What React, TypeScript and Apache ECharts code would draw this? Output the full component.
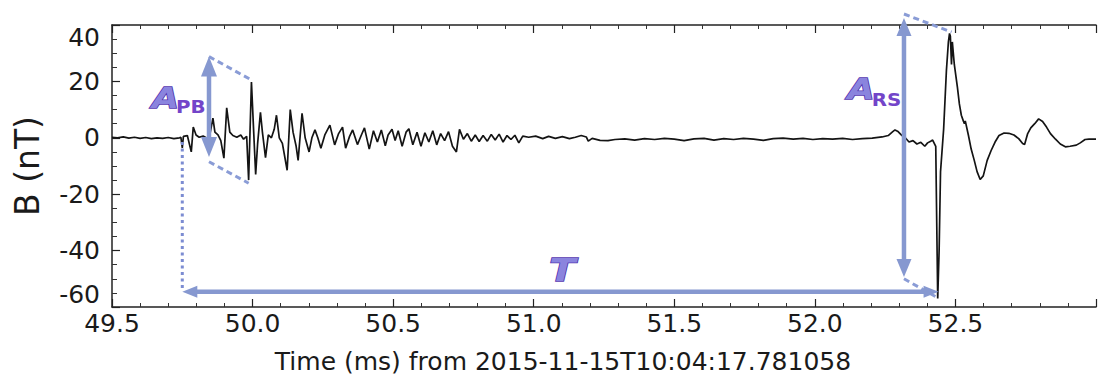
import React, { useEffect, useRef } from "react";
import * as echarts from "echarts";

// ---- data ----
const timeMs = [
  49.5, 49.52, 49.54, 49.56, 49.58, 49.6, 49.62, 49.64, 49.66, 49.68, 49.7, 49.72, 49.74,
  49.745, 49.75, 49.754, 49.768, 49.782, 49.789, 49.799, 49.81, 49.824, 49.835, 49.845,
  49.859, 49.866, 49.877, 49.887, 49.898, 49.908, 49.919, 49.93, 49.944, 49.958, 49.968,
  49.979, 49.986, 49.996, 50.004, 50.011, 50.018, 50.028, 50.035, 50.046, 50.056, 50.067,
  50.077, 50.085, 50.095, 50.106, 50.123, 50.134, 50.144, 50.155, 50.162, 50.176, 50.187,
  50.201, 50.211, 50.222, 50.232, 50.243, 50.257, 50.275, 50.292, 50.306, 50.32, 50.331,
  50.345, 50.356, 50.373, 50.387, 50.398, 50.415, 50.43, 50.444, 50.458, 50.472, 50.482,
  50.496, 50.507, 50.518, 50.532, 50.546, 50.556, 50.57, 50.585, 50.599, 50.613, 50.627,
  50.641, 50.655, 50.669, 50.683, 50.697, 50.711, 50.725, 50.736, 50.75, 50.764, 50.778,
  50.792, 50.806, 50.82, 50.835, 50.849, 50.863, 50.877, 50.891, 50.905, 50.919, 50.933,
  50.947, 50.961, 50.982, 51.007, 51.032, 51.053, 51.077, 51.102, 51.127, 51.148, 51.169,
  51.187, 51.194, 51.208, 51.236, 51.264, 51.289, 51.324, 51.359, 51.394, 51.43, 51.465,
  51.5, 51.535, 51.57, 51.606, 51.641, 51.676, 51.711, 51.746, 51.782, 51.817, 51.852,
  51.887, 51.923, 51.958, 51.993, 52.028, 52.063, 52.099, 52.134, 52.169, 52.204, 52.239,
  52.261, 52.275, 52.285, 52.296, 52.31, 52.32, 52.335, 52.349, 52.363, 52.377, 52.391,
  52.401, 52.412, 52.419, 52.43, 52.437, 52.442, 52.447, 52.458, 52.468, 52.475, 52.479,
  52.482, 52.486, 52.489, 52.496, 52.507, 52.514, 52.521, 52.528, 52.532, 52.535, 52.546,
  52.556, 52.567, 52.577, 52.588, 52.599, 52.613, 52.627, 52.641, 52.655, 52.673, 52.69,
  52.708, 52.725, 52.739, 52.746, 52.757, 52.768, 52.782, 52.796, 52.81, 52.824, 52.838,
  52.856, 52.873, 52.891, 52.908, 52.93, 52.944, 52.961, 52.975, 53.0,
];
const fieldNT = [
  0.2, 0.0, 0.3, -0.1, 0.2, -0.2, 0.1, -0.3, 0.0, -0.2, 0.1, -0.3, 0.0,
  0.2, -3.6, 0.5, 0.8, -5.0, 3.8, 1.0, 0.2, 0.6, 0.0, -0.5,
  7.0, 2.0, 1.0, -1.0, -7.2, 10.6, 2.0, 0.8, 0.2, 1.0, -0.5,
  0.5, -15.0, 19.8, 2.0, -13.0, -2.0, 9.0, 2.0, -7.0, 1.0, 0.0,
  3.0, 8.0, 0.0, -2.0, -11.5, 10.0, 2.0, -3.0, -8.0, 8.7, 0.0,
  -5.0, 0.0, 2.8, 0.0, -3.7, 1.0, 4.5, -2.5, 1.5, 3.8, -3.7,
  0.5, 2.8, -2.4, 1.0, 3.5, -4.0, 2.5, -1.5, 2.8, -2.8, 1.0,
  3.0, -1.0, 2.5, -3.0, 2.0, 3.2, -2.5, 2.0, -3.0, 1.8, -1.5,
  2.5, -2.5, 1.5, -1.0, 2.2, -3.0, -5.0, 3.0, -0.5, 1.5, -1.2,
  1.0, -1.3, 0.8, -1.2, 1.2, -0.8, 1.3, -1.5, 0.8, -0.6, 0.9,
  -1.8, 0.6, 0.2, 0.6, -0.3, 0.5, -0.2, 0.4, -0.3, 0.2, 0.8,
  0.3, -1.2, -0.2, -0.9, -1.0, -0.6, -0.4, -0.8, -0.3, -0.6, -0.2,
  -0.5, -1.0, -0.4, -0.2, -0.8, -0.3, -0.6, -0.2, -0.5, -0.9, -0.3,
  -0.1, -0.5, -0.2, -0.6, -0.3, -0.5, -0.2, -0.6, -0.3, -0.1, 0.3,
  0.8, 2.0, 2.8, 2.2, 0.8, 0.2, -1.5, -1.0, -2.2, -1.6, -3.0,
  -1.8, -1.2, -0.8, -3.0, -57.0, -40.0, -12.0, 3.0, 24.0, 34.0, 37.0,
  36.0, 26.0, 34.0, 26.0, 18.0, 12.0, 8.0, 6.0, 5.0, 6.0, 1.0,
  -4.0, -8.0, -12.0, -14.8, -13.5, -8.0, -4.5, -1.5, 0.8, 1.7, 1.6,
  1.0, -0.3, -2.0, -2.4, 1.5, 3.5, 5.0, 6.7, 5.8, 3.8, 1.5,
  -0.5, -2.2, -3.2, -3.0, -2.6, -1.8, -0.6, -0.5, -0.5,
];

const xRange = [49.5, 53.0];
const yRange = [-60, 40];
const xTitle = "Time (ms) from 2015-11-15T10:04:17.781058";
const yTitle = "B (nT)";

// annotation geometry in data units (ms, nT)
const apbArrow = { t: 49.845, top: 28.8, bottom: -6.8 };
const apbDashes = [
  [[49.845, 28.8], [49.996, 20.5]],
  [[49.845, -8.5], [49.986, -16.1]],
];
const onsetDotted = [[49.75, -1.5], [49.75, -54.5]];
const tArrow = { b: -54.6, start: 49.75, end: 52.44 };
const arsArrow = { t: 52.317, top: 42.5, bottom: -49.4 };
const arsDashes = [
  [[52.317, 43.9], [52.486, 37.5]],
  [[52.317, -50.0], [52.433, -56.5]],
];
const labelTexts = ["A", "PB", "A", "RS", "T"];
const labelKinds = ["big", "sub", "big", "sub", "big"];
const labelAt = [
  [49.69, 14.1],
  [49.78, 11.1],
  [52.164, 17.3],
  [52.255, 13.6],
  [51.102, -46.9],
];

const FONT = "DejaVu Sans";
const ARROW = "#8698d0";
const DASH = "#8a9cd6";

export default function App() {
  const ref = useRef<HTMLDivElement>(null);

  useEffect(() => {
    document.body.style.margin = "0";
    const el = ref.current!;
    const chart = echarts.init(el, undefined, { renderer: "svg" });

    const axisLine = { show: true, onZero: false, lineStyle: { color: "#222", width: 1.5 } };
    const axisTick = { show: true, inside: true, length: 8, lineStyle: { color: "#222", width: 1.2 } };

    chart.setOption({
      animation: false,
      backgroundColor: "#fff",
      grid: { left: 112, top: 25, width: 994, height: 282, containLabel: false },
      xAxis: [
        {
          type: "value",
          min: xRange[0],
          max: xRange[1],
          interval: 0.5,
          position: "bottom",
          axisLine,
          axisTick,
          minorTick: { show: true, splitNumber: 5, length: 4, lineStyle: { color: "#333", width: 1 } },
          splitLine: { show: false },
          axisLabel: {
            formatter: (v: number) => (v > 52.6 ? "" : v.toFixed(1)),
            fontSize: 25,
            fontFamily: FONT,
            color: "#1a1a1a",
            margin: 4,
          },
          name: xTitle,
          nameLocation: "middle",
          nameGap: 42,
          nameTextStyle: { fontSize: 25, fontFamily: FONT, color: "#1a1a1a", padding: [0, 82, 0, 0] },
        },
        {
          type: "value",
          min: xRange[0],
          max: xRange[1],
          interval: 0.5,
          position: "top",
          axisLine,
          axisTick,
          minorTick: { show: true, splitNumber: 5, length: 4, lineStyle: { color: "#333", width: 1 } },
          splitLine: { show: false },
          axisLabel: { show: false },
        },
      ],
      yAxis: [
        {
          type: "value",
          min: yRange[0],
          max: yRange[1],
          interval: 20,
          axisLine,
          axisTick,
          minorTick: { show: true, splitNumber: 4, length: 5, lineStyle: { color: "#333", width: 1 } },
          splitLine: { show: false },
          axisLabel: {
            fontSize: 25,
            fontFamily: FONT,
            color: "#1a1a1a",
            margin: 12,
            verticalAlignMinLabel: "bottom",
            verticalAlignMaxLabel: "top",
          },
          name: yTitle,
          nameLocation: "middle",
          nameGap: 68,
          nameTextStyle: { fontSize: 33, fontFamily: FONT, color: "#1a1a1a" },
        },
      ],
      series: [
        {
          type: "line",
          data: timeMs.map((t, i) => [t, fieldNT[i]]),
          showSymbol: false,
          symbol: "none",
          lineStyle: { color: "#141414", width: 1.7 },
          z: 2,
        },
      ],
    });

    const px = (p: number[]) => chart.convertToPixel({ xAxisIndex: 0, yAxisIndex: 0 }, p) as number[];

    const g: any[] = [];
    const vArrow = (t: number, top: number, bottom: number, headL: number, headW: number) => {
      const a = px([t, top]);
      const b = px([t, bottom]);
      const x = a[0];
      g.push({
        type: "line",
        z: 50,
        shape: { x1: x, y1: a[1] + headL - 1, x2: x, y2: b[1] - headL + 1 },
        style: { stroke: ARROW, lineWidth: 4.5 },
      });
      g.push({
        type: "polygon",
        z: 50,
        shape: { points: [[x, a[1]], [x - headW / 2, a[1] + headL], [x + headW / 2, a[1] + headL]] },
        style: { fill: ARROW },
      });
      g.push({
        type: "polygon",
        z: 50,
        shape: { points: [[x, b[1]], [x - headW / 2, b[1] - headL], [x + headW / 2, b[1] - headL]] },
        style: { fill: ARROW },
      });
    };
    const dashed = (seg: number[][], dash: number[], width: number, color: string) => {
      const a = px(seg[0]);
      const b = px(seg[1]);
      g.push({
        type: "line",
        z: 49,
        shape: { x1: a[0], y1: a[1], x2: b[0], y2: b[1] },
        style: { stroke: color, lineWidth: width, lineDash: dash },
      });
    };

    vArrow(apbArrow.t, apbArrow.top, apbArrow.bottom, 20, 16);
    apbDashes.forEach((s) => dashed(s, [6, 4], 3, DASH));
    dashed(onsetDotted, [3, 3.5], 3, "#7c8cd2");
    vArrow(arsArrow.t, arsArrow.top, arsArrow.bottom, 18, 15);
    arsDashes.forEach((s) => dashed(s, [6, 4], 3, DASH));

    // horizontal T arrow
    {
      const a = px([tArrow.start, tArrow.b]);
      const b = px([tArrow.end, tArrow.b]);
      const y = a[1];
      const L = 15;
      const W = 12;
      g.push({
        type: "line",
        z: 50,
        shape: { x1: a[0] + L - 1, y1: y, x2: b[0] - L + 1, y2: y },
        style: { stroke: ARROW, lineWidth: 4.5 },
      });
      g.push({
        type: "polygon",
        z: 50,
        shape: { points: [[a[0], y], [a[0] + L, y - W / 2], [a[0] + L, y + W / 2]] },
        style: { fill: ARROW },
      });
      g.push({
        type: "polygon",
        z: 50,
        shape: { points: [[b[0], y], [b[0] - L, y - W / 2], [b[0] - L, y + W / 2]] },
        style: { fill: ARROW },
      });
    }

    labelTexts.forEach((txt, i) => {
      const p = px(labelAt[i]);
      const big = labelKinds[i] === "big";
      const size = txt === "T" ? 32 : big ? 29 : 18;
      g.push({
        type: "text",
        z: 60,
        x: p[0],
        y: p[1],
        scaleX: big ? 1.2 : 1.1,
        style: big
          ? {
              text: txt,
              x: 0,
              y: 0,
              align: "center",
              verticalAlign: "middle",
              fontSize: size,
              fontWeight: "bold",
              fontStyle: "italic",
              fontFamily: FONT,
              fill: "#8a84de",
              stroke: "#5336b0",
              lineWidth: 1.5,
            }
          : {
              text: txt,
              x: 0,
              y: 0,
              align: "center",
              verticalAlign: "middle",
              fontSize: size,
              fontWeight: "bold",
              fontFamily: FONT,
              fill: "#7345c9",
            },
      });
    });

    chart.setOption({ graphic: g });

    return () => chart.dispose();
  }, []);

  return <div ref={ref} style={{ width: 1099, height: 383 }} />;
}
